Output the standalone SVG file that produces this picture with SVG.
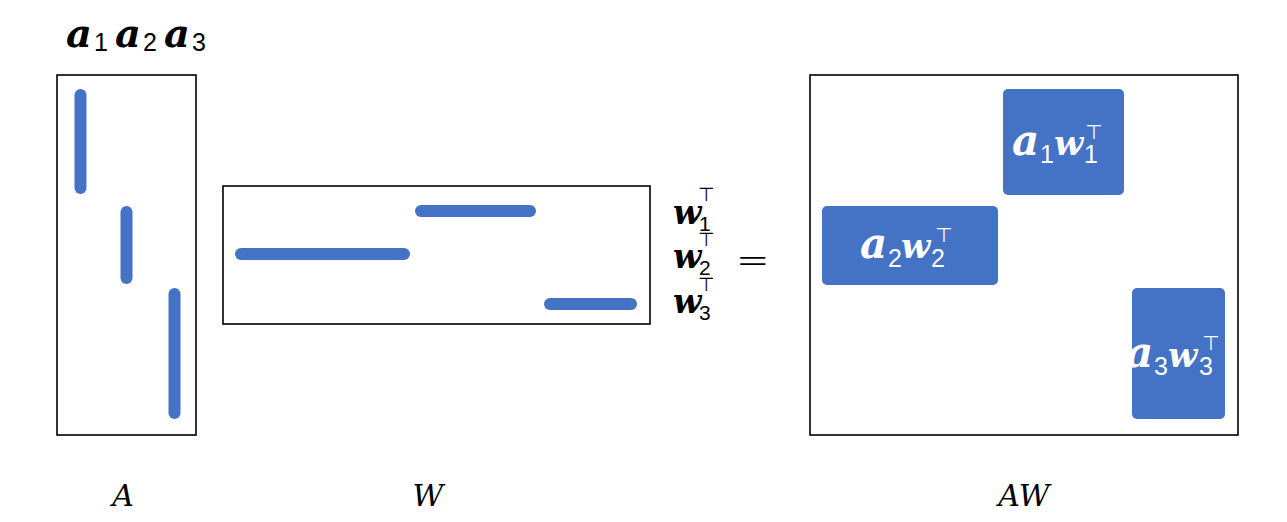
<svg xmlns="http://www.w3.org/2000/svg" width="1287" height="522" viewBox="0 0 1287 522">
<style>
.frame{fill:#fff;stroke:#000;stroke-width:1.6}
.bar{stroke:#4472C4;stroke-width:12;stroke-linecap:round;fill:none}
.blk{fill:#4472C4}
.bi{font-family:"DejaVu Serif",serif;font-weight:bold;font-style:italic}
.it{font-family:"DejaVu Serif",serif;font-style:italic;font-size:30px}
.sub{font-family:"Liberation Sans",Arial,sans-serif}
.tack{font-family:"DejaVu Sans",sans-serif}
.wh{fill:#fff}
</style>
<rect width="1287" height="522" fill="#fff"/>
<g id="labels-a">
<text class="bi" x="66" y="47" font-size="40">a</text><text class="sub" x="94" y="51" font-size="25">1</text>
<text class="bi" x="115" y="47" font-size="40">a</text><text class="sub" x="143" y="51" font-size="25">2</text>
<text class="bi" x="164" y="47" font-size="40">a</text><text class="sub" x="192" y="51" font-size="25">3</text>
</g>
<g id="matrix-A">
<rect class="frame" x="57" y="75" width="139" height="360"/>
<line class="bar" x1="80.5" y1="95" x2="80.5" y2="188"/>
<line class="bar" x1="126.5" y1="212" x2="126.5" y2="278"/>
<line class="bar" x1="174.5" y1="294" x2="174.5" y2="413"/>
</g>
<g id="matrix-W">
<rect class="frame" x="223" y="186" width="427" height="138"/>
<line class="bar" x1="421" y1="211" x2="530" y2="211"/>
<line class="bar" x1="241" y1="254" x2="404" y2="254"/>
<line class="bar" x1="550" y1="304" x2="631" y2="304"/>
</g>
<g id="labels-w">
<text class="bi" x="673" y="224" font-size="33">w</text><text class="sub" x="699" y="231" font-size="21">1</text><text class="tack" x="698" y="201" font-size="19">⊤</text>
<text class="bi" x="673" y="268" font-size="33">w</text><text class="sub" x="699" y="275" font-size="21">2</text><text class="tack" x="698" y="246" font-size="19">⊤</text>
<text class="bi" x="673" y="313" font-size="33">w</text><text class="sub" x="699" y="320" font-size="21">3</text><text class="tack" x="698" y="291" font-size="19">⊤</text>
</g>
<g id="equals">
<text class="tack" x="736" y="274" font-size="40" font-weight="300">=</text>
</g>
<g id="matrix-AW">
<rect class="frame" x="810" y="75" width="428" height="360"/>
<rect class="blk" x="1003" y="89" width="121" height="106" rx="5"/>
<rect class="blk" x="822" y="206" width="176" height="79" rx="5"/>
<rect class="blk" x="1132" y="288" width="93" height="131" rx="5"/>
<text class="bi wh" x="1012" y="155" font-size="42">a</text><text class="sub wh" x="1040" y="163" font-size="25">1</text><text class="bi wh" x="1054" y="155" font-size="34">w</text><text class="sub wh" x="1084" y="163" font-size="25">1</text><text class="tack wh" x="1085" y="139" font-size="20">⊤</text>
<text class="bi wh" x="860" y="258" font-size="42">a</text><text class="sub wh" x="888" y="267" font-size="25">2</text><text class="bi wh" x="901" y="258" font-size="34">w</text><text class="sub wh" x="931" y="267" font-size="25">2</text><text class="tack wh" x="935" y="242" font-size="20">⊤</text>
<text class="bi wh" x="1126" y="367" font-size="42">a</text><text class="sub wh" x="1154" y="375" font-size="25">3</text><text class="bi wh" x="1168" y="367" font-size="34">w</text><text class="sub wh" x="1199" y="375" font-size="25">3</text><text class="tack wh" x="1202" y="350" font-size="20">⊤</text>
</g>
<g id="captions">
<text class="it" x="123" y="506" text-anchor="middle">A</text>
<text class="it" x="428" y="506" text-anchor="middle">W</text>
<text class="it" x="1024" y="506" text-anchor="middle">AW</text>
</g>
</svg>
